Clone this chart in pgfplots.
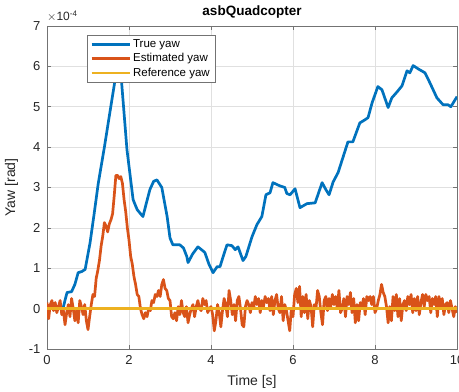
\documentclass[border=0pt]{standalone}
\usepackage{pgfplots}
\pgfplotsset{compat=1.18}
\usepackage{fontspec}
\setmainfont{Liberation Sans}
\definecolor{mblue}{rgb}{0,0.447,0.741}
\definecolor{morange}{rgb}{0.85,0.325,0.098}
\definecolor{myellow}{rgb}{0.929,0.694,0.125}
\definecolor{maxis}{rgb}{0.15,0.15,0.15}
\begin{document}
\begin{tikzpicture}
\begin{axis}[
  scale only axis,
  width=410pt, height=323pt,
  xmin=0, xmax=10, ymin=-1, ymax=7,
  xtick={0,2,4,6,8,10}, ytick={-1,0,1,2,3,4,5,6,7},
  grid=major,
  major grid style={draw=black!12, line width=0.5pt},
  axis line style={draw=black!55, line width=0.6pt},
  tick style={draw=black!55, line width=0.6pt},
  tick align=inside,
  major tick length=4pt,
  xtick pos=both, ytick pos=both,
  /pgf/number format/assume math mode=true,
  tick label style={font=\fontsize{13}{15}\selectfont, text=maxis},
  xticklabel style={yshift=-3pt},
  yticklabel style={xshift=-3pt},
  title={\bfseries asbQuadcopter},
  title style={font=\fontsize{13.5}{15}\selectfont, yshift=-2pt},
  xlabel={Time [s]},
  ylabel={Yaw [rad]},
  label style={font=\fontsize{14}{16}\selectfont, text=maxis},
  xlabel style={yshift=-4pt},
  ylabel style={yshift=4pt},
  legend style={at={(axis description cs:0.098,0.972)}, anchor=north west,
    font=\fontsize{11.5}{13.5}\selectfont, draw=black!55, fill=white,
    row sep=0.5pt, inner xsep=3pt, inner ysep=2.5pt},
  legend cell align=left,
  legend image code/.code={\draw[#1] (0pt,0pt) -- (38pt,0pt);},
  clip mode=individual,
]
\addplot[line width=2.7pt, draw=mblue, line join=round] coordinates {
(0,0) (0.39,0) (0.45,0.25) (0.49,0.4) (0.6,0.42) (0.68,0.6) (0.76,0.89) (0.85,0.92)
(0.93,0.97) (1.05,1.63) (1.15,2.35) (1.25,3.1) (1.4,4.0) (1.54,4.9) (1.65,5.6)
(1.75,6.2) (1.82,5.6) (1.95,3.94) (2.1,2.7) (2.2,2.45) (2.34,2.28) (2.42,2.6)
(2.51,2.95) (2.6,3.15) (2.68,3.19) (2.8,3.0) (2.93,2.28) (3.0,1.75) (3.07,1.58)
(3.24,1.58) (3.33,1.5) (3.41,1.29) (3.44,1.14) (3.55,1.35) (3.68,1.53) (3.78,1.45)
(3.85,1.39) (3.95,1.1) (4.05,0.89) (4.15,1.04) (4.22,1.04) (4.3,1.3) (4.39,1.58)
(4.51,1.56) (4.59,1.46) (4.66,1.53) (4.78,1.19) (4.85,1.29) (5.0,1.78) (5.12,2.08)
(5.24,2.28) (5.34,2.82) (5.44,2.87) (5.51,3.12) (5.68,3.04) (5.8,3.0) (5.85,2.85)
(5.93,2.82) (6.05,2.97) (6.17,2.5) (6.34,2.6) (6.54,2.62) (6.71,3.12) (6.8,2.95)
(6.88,2.82) (6.98,3.14) (7.1,3.37) (7.22,3.75) (7.34,4.13) (7.46,4.13) (7.63,4.6)
(7.76,4.68) (7.83,4.73) (7.93,5.1) (8.07,5.5) (8.17,5.42) (8.32,4.98) (8.41,5.22)
(8.54,5.37) (8.66,5.52) (8.78,5.89) (8.85,5.84) (8.93,6.02) (9.05,5.94) (9.22,5.84)
(9.34,5.59) (9.51,5.22) (9.66,5.05) (9.78,5.05) (9.85,5.0) (10.0,5.25)
};
\addlegendentry{True yaw}
\addplot[line width=2.7pt, draw=morange, line join=round] coordinates {
(0.00,0.15) (0.04,-0.25) (0.08,0.1) (0.12,0.2) (0.16,-0.05) (0.20,0.15) (0.24,-0.1) (0.28,0.05)
(0.32,0.2) (0.36,-0.15) (0.40,-0.05) (0.44,-0.4) (0.48,-0.1) (0.52,0.1) (0.56,-0.2) (0.60,0.25)
(0.64,0.0) (0.68,-0.3) (0.72,-0.05) (0.76,-0.35) (0.80,0.2) (0.84,0.05) (0.88,-0.15) (0.92,0.1)
(0.96,-0.3) (1.00,-0.52) (1.04,-0.2) (1.08,0.1) (1.12,0.35) (1.16,0.3) (1.20,0.75) (1.24,0.95)
(1.28,1.2) (1.32,1.55) (1.36,1.8) (1.40,2.13) (1.44,2.05) (1.48,1.9) (1.52,2.1) (1.56,2.2)
(1.60,2.35) (1.64,2.8) (1.68,3.3) (1.72,3.3) (1.76,3.22) (1.80,3.27) (1.84,3.1) (1.88,2.7)
(1.92,2.4) (1.96,2.0) (2.00,1.7) (2.04,1.3) (2.08,1.1) (2.12,0.8) (2.16,0.6) (2.20,0.35)
(2.24,0.3) (2.28,0.0) (2.32,-0.15) (2.36,-0.25) (2.40,-0.1) (2.44,-0.2) (2.48,0.0) (2.52,-0.05)
(2.56,0.2) (2.60,0.15) (2.64,0.35) (2.68,0.3) (2.72,0.45) (2.76,0.3) (2.80,0.6) (2.84,0.72)
(2.88,0.5) (2.92,0.45) (2.96,0.25) (3.00,0.2) (3.04,-0.2) (3.08,-0.25) (3.12,-0.1) (3.16,-0.3)
(3.20,0.05) (3.24,-0.15) (3.28,0.2) (3.32,-0.1) (3.36,-0.2) (3.40,0.05) (3.44,-0.35) (3.48,-0.15)
(3.52,0.0) (3.56,0.1) (3.60,-0.2) (3.64,0.05) (3.68,0.2) (3.72,0.0) (3.76,-0.05) (3.80,0.25)
(3.84,0.1) (3.88,0.2) (3.92,-0.1) (3.96,0.0) (4.00,0.05) (4.04,-0.15) (4.08,-0.55) (4.12,-0.3)
(4.16,0.1) (4.20,-0.1) (4.24,-0.45) (4.28,-0.05) (4.32,0.25) (4.36,0.1) (4.40,-0.2) (4.44,0.45)
(4.48,0.2) (4.52,-0.15) (4.56,0.1) (4.60,-0.3) (4.64,0.2) (4.68,0.3) (4.72,0.0) (4.76,-0.4)
(4.80,-0.45) (4.84,0.05) (4.88,0.2) (4.92,0.1) (4.96,-0.1) (5.00,0.15) (5.04,0.0) (5.08,0.3)
(5.12,0.1) (5.16,0.25) (5.20,-0.1) (5.24,0.2) (5.28,0.05) (5.32,0.3) (5.36,0.15) (5.40,0.25)
(5.44,-0.05) (5.48,0.3) (5.52,-0.15) (5.56,0.2) (5.60,0.35) (5.64,0.0) (5.68,-0.1) (5.72,0.3)
(5.76,-0.3) (5.80,0.1) (5.84,-0.05) (5.88,-0.3) (5.92,-0.55) (5.96,0.0) (6.00,-0.2) (6.04,0.35)
(6.08,0.5) (6.12,0.15) (6.16,0.55) (6.20,-0.2) (6.24,0.3) (6.28,-0.1) (6.32,0.35) (6.36,-0.25)
(6.40,0.2) (6.44,0.05) (6.48,-0.45) (6.52,0.1) (6.56,0.0) (6.60,0.45) (6.64,0.3) (6.68,-0.1)
(6.72,-0.4) (6.76,0.2) (6.80,0.3) (6.84,-0.05) (6.88,0.25) (6.92,0.05) (6.96,0.35) (7.00,0.1)
(7.04,0.3) (7.08,0.0) (7.12,0.45) (7.16,-0.1) (7.20,0.0) (7.24,0.25) (7.28,-0.2) (7.32,0.3)
(7.36,0.1) (7.40,0.4) (7.44,-0.1) (7.48,0.25) (7.52,-0.35) (7.56,0.1) (7.60,-0.3) (7.64,0.15)
(7.68,0.05) (7.72,0.25) (7.76,-0.15) (7.80,0.3) (7.84,0.2) (7.88,0.3) (7.92,0.1) (7.96,0.3)
(8.00,-0.1) (8.04,0.0) (8.08,0.2) (8.12,0.35) (8.16,0.6) (8.20,0.4) (8.24,0.3) (8.28,0.05)
(8.32,-0.35) (8.36,0.05) (8.40,-0.3) (8.44,0.3) (8.48,-0.05) (8.52,0.35) (8.56,-0.2) (8.60,0.25)
(8.64,-0.3) (8.68,0.1) (8.72,0.2) (8.76,-0.05) (8.80,0.3) (8.84,0.1) (8.88,0.35) (8.92,-0.1)
(8.96,0.25) (9.00,-0.05) (9.04,0.3) (9.08,-0.15) (9.12,0.15) (9.16,0.35) (9.20,0.05) (9.24,0.35)
(9.28,0.2) (9.32,0.3) (9.36,-0.1) (9.40,0.25) (9.44,0.1) (9.48,0.3) (9.52,-0.2) (9.56,0.3)
(9.60,0.05) (9.64,0.25) (9.68,-0.15) (9.72,0.1) (9.76,0.15) (9.80,-0.1) (9.84,0.2) (9.88,0.0)
(9.92,-0.2) (9.96,0.05) (10.00,-0.1)
};
\addlegendentry{Estimated yaw}
\addplot[line width=2.7pt, draw=myellow] coordinates {(0,0) (10,0)};
\addlegendentry{Reference yaw}
\coordinate (bl) at (rel axis cs:0,0);
\coordinate (tr) at (rel axis cs:1,1);
\node[anchor=south west, inner sep=0pt, text=maxis, font=\fontsize{12}{14}\selectfont]
  at ([xshift=0pt,yshift=4pt]rel axis cs:0,1) {$\times$10\textsuperscript{-4}};
\end{axis}
\pgfresetboundingbox
\path[use as bounding box] ([shift={(-47pt,-43pt)}]bl) rectangle ([shift={(2pt,26pt)}]tr);
\end{tikzpicture}
\end{document}
